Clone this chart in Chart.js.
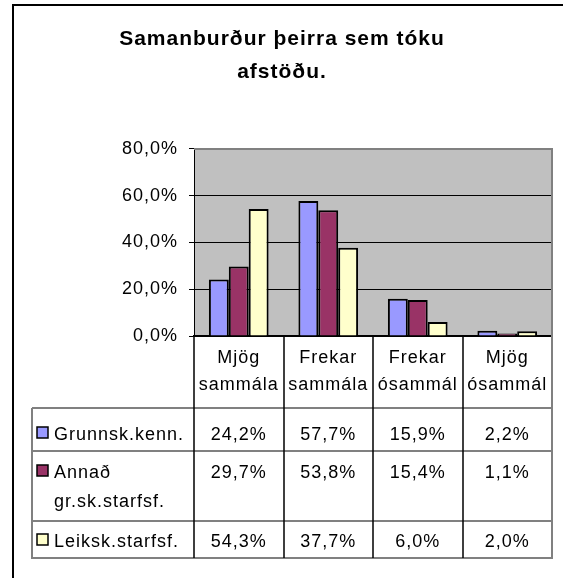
<!DOCTYPE html>
<html>
<head>
<meta charset="utf-8">
<script src="https://cdn.jsdelivr.net/npm/chart.js@4"></script>
<style>
  html, body { margin: 0; padding: 0; background: #fff; overflow: hidden; }
  #wrap { width: 563px; height: 578px; position: relative; }
</style>
</head>
<body>
<div id="wrap"><canvas id="chart"></canvas></div>
<script>
// data
var categories = [['Mjög', 'sammála'], ['Frekar', 'sammála'], ['Frekar', 'ósammál'], ['Mjög', 'ósammál']];
var seriesNames = ['Grunnsk.kenn.', 'Annað gr.sk.starfsf.', 'Leiksk.starfsf.'];
var grunnsk = [24.2, 57.7, 15.9, 2.2];
var annad = [29.7, 53.8, 15.4, 1.1];
var leiksk = [54.3, 37.7, 6.0, 2.0];
var yTicks = [0, 20, 40, 60, 80];
var colors = ['#9999FF', '#993366', '#FFFFCC'];

var FONT = '"Liberation Sans", Arial, sans-serif';

function pct(v) {
    return v.toFixed(1).replace('.', ',') + '%';
}

// the old excel export draws its text a bit wider
function spacing(chart) {
    chart.ctx.letterSpacing = '1px';
}

// frame, plot background, plot border and the data table under the axis
var tablePlugin = {
    id: 'tablePlugin',
    beforeUpdate: spacing,
    beforeLayout: spacing,
    beforeDraw: function (chart) {
        var ctx = chart.ctx;
        var a = chart.chartArea;
        spacing(chart);
        ctx.save();
        ctx.fillStyle = '#fff';
        ctx.fillRect(0, 0, chart.width, chart.height);
        ctx.fillStyle = '#000';
        ctx.fillRect(12, 4, 2, chart.height);
        ctx.fillRect(12, 4, chart.width, 2);
        ctx.fillStyle = '#C0C0C0';
        ctx.fillRect(a.left, a.top, a.right - a.left, a.bottom - a.top);
        ctx.restore();
    },
    afterDraw: function (chart) {
        var ctx = chart.ctx;
        var a = chart.chartArea;
        var xs = chart.scales.x;
        var n = categories.length;
        var colW = (a.right - a.left) / n;
        var rows = [408, 451, 521, 558];
        var left = 32;
        var data = chart.data.datasets;
        ctx.save();

        // plot border top / right
        ctx.strokeStyle = '#808080';
        ctx.lineWidth = 2;
        ctx.beginPath();
        ctx.moveTo(a.left, a.top);
        ctx.lineTo(a.right, a.top);
        ctx.lineTo(a.right, rows[3] + 1);
        ctx.stroke();

        // horizontal table lines
        ctx.beginPath();
        rows.forEach(function (y) {
            ctx.moveTo(left, y);
            ctx.lineTo(a.right, y);
        });
        ctx.moveTo(left, rows[0]);
        ctx.lineTo(left, rows[3] + 1);
        ctx.stroke();

        // vertical dividers
        ctx.strokeStyle = '#000';
        ctx.lineWidth = 1.5;
        ctx.beginPath();
        for (var i = 0; i < n; i++) {
            var x = Math.round(xs.getPixelForValue(i) - colW / 2);
            ctx.moveTo(x, a.bottom);
            ctx.lineTo(x, rows[3]);
        }
        ctx.stroke();

        // rows
        ctx.font = '18px ' + FONT;
        ctx.textBaseline = 'alphabetic';
        var baselines = [440, 478, 547];
        data.forEach(function (ds, r) {
            var by = baselines[r];
            var sq = 11;
            ctx.fillStyle = ds.backgroundColor;
            ctx.fillRect(37, by - 13, sq, sq);
            ctx.strokeStyle = '#000';
            ctx.lineWidth = 1.5;
            ctx.strokeRect(37, by - 13, sq, sq);

            // wrap legend text
            var words = ds.label.split(' ');
            var lines = [];
            var cur = '';
            words.forEach(function (w) {
                var t = cur ? cur + ' ' + w : w;
                if (cur && ctx.measureText(t).width > a.left - 58) {
                    lines.push(cur);
                    cur = w;
                } else {
                    cur = t;
                }
            });
            lines.push(cur);
            ctx.fillStyle = '#000';
            ctx.textAlign = 'left';
            lines.forEach(function (l, k) {
                ctx.fillText(l, 54, by + k * 29);
            });

            ctx.textAlign = 'center';
            ds.data.forEach(function (v, i) {
                ctx.fillText(pct(v), xs.getPixelForValue(i), by);
            });
        });
        ctx.restore();
    }
};

new Chart(document.getElementById('chart'), {
    type: 'bar',
    data: {
        labels: categories,
        datasets: [
            { label: seriesNames[0], data: grunnsk, backgroundColor: colors[0] },
            { label: seriesNames[1], data: annad, backgroundColor: colors[1] },
            { label: seriesNames[2], data: leiksk, backgroundColor: colors[2] }
        ]
    },
    options: {
        responsive: true,
        maintainAspectRatio: false,
        animation: false,
        datasets: {
            bar: {
                borderColor: '#000',
                borderWidth: 2,
                categoryPercentage: 0.667,
                barPercentage: 1.0
            }
        },
        layout: { padding: { left: 12, right: 11, top: 0, bottom: 170 } },
        plugins: {
            legend: { display: false },
            tooltip: { enabled: false },
            title: {
                display: true,
                text: ['Samanburður þeirra sem tóku', 'afstöðu.'],
                color: '#000',
                font: { family: FONT, size: 21, weight: 'bold', lineHeight: 1.57 },
                padding: { top: 23, bottom: 60 }
            }
        },
        scales: {
            x: {
                grid: { display: false },
                border: { display: true, color: '#000', width: 2 },
                ticks: {
                    color: '#000',
                    font: { family: FONT, size: 18, lineHeight: 1.5 },
                    padding: 1,
                    maxRotation: 0,
                    autoSkip: false
                },
                afterFit: function (scale) { scale.height = 72; }
            },
            y: {
                min: 0,
                max: 80,
                afterBuildTicks: function (scale) {
                    scale.ticks = yTicks.map(function (v) { return { value: v }; });
                },
                grid: {
                    color: function (c) { return c.tick && c.tick.value === 80 ? 'rgba(0,0,0,0)' : '#000'; },
                    tickColor: '#000',
                    tickLength: 5,
                    lineWidth: 1
                },
                border: { display: true, color: '#000', width: 1 },
                ticks: {
                    color: '#000',
                    padding: 11,
                    font: { family: FONT, size: 18 },
                    callback: function (v) { return pct(v); }
                },
                afterFit: function (scale) { scale.width = 182; }
            }
        }
    },
    plugins: [tablePlugin]
});
</script>
</body>
</html>
